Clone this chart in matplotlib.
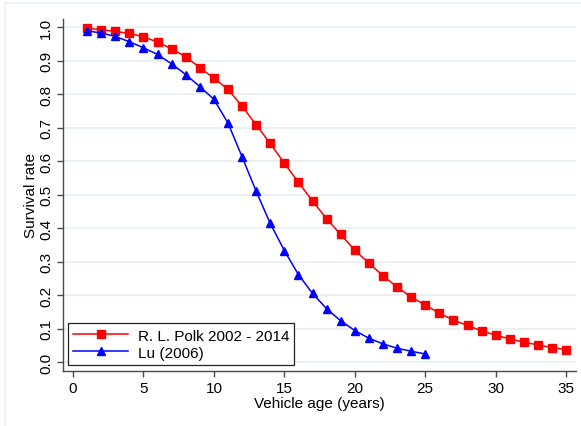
import matplotlib.pyplot as plt
from matplotlib.lines import Line2D

plt.rcParams['font.family'] = ['Liberation Sans', 'DejaVu Sans']

# Survival rate by vehicle age
polk_age = list(range(1, 36))
polk_rate = [0.997, 0.993, 0.988, 0.982, 0.972, 0.956, 0.936, 0.912, 0.880, 0.848,
             0.815, 0.764, 0.709, 0.653, 0.594, 0.537, 0.481, 0.428, 0.381, 0.334,
             0.295, 0.258, 0.224, 0.194, 0.170, 0.146, 0.125, 0.109, 0.093, 0.080,
             0.069, 0.059, 0.051, 0.043, 0.037]

lu_age = list(range(1, 26))
lu_rate = [0.990, 0.983, 0.973, 0.957, 0.939, 0.919, 0.891, 0.859, 0.823, 0.785,
           0.714, 0.613, 0.510, 0.414, 0.333, 0.261, 0.205, 0.159, 0.123, 0.094,
           0.071, 0.054, 0.041, 0.032, 0.024]

yticks = [i / 10 for i in range(11)]
xticks = [0, 5, 10, 15, 20, 25, 30, 35]

W, H = 581, 427
fig = plt.figure(figsize=(W / 100, H / 100), dpi=100)
ax = fig.add_axes([63 / W, (H - 372) / H, (576 - 63) / W, (372 - 20) / H])

grid_col = '#e9f1f3'
axis_col = '#4a4a4a'
fs = 11

for y in yticks:
    ax.axhline(y, color=grid_col, lw=1.4, zorder=0)

ax.plot(polk_age, polk_rate, color='#ff0000', marker='s', markersize=5.3,
        lw=1.1, label='R. L. Polk 2002 - 2014', zorder=3)
ax.plot(lu_age, lu_rate, color='#0000ff', marker='^', markersize=6.3,
        lw=1.1, label='Lu (2006)', zorder=3)

ax.set_xlim(-0.71, 35.7)
ax.set_ylim(-0.027, 1.025)

ax.set_xticks(xticks)
ax.set_yticks(yticks)
ax.set_yticklabels([f'{v:.1f}' for v in yticks], rotation=90, va='center')
ax.tick_params(axis='both', direction='out', length=4, width=1, color=axis_col,
               labelsize=fs, pad=3)

for side in ['top', 'right']:
    ax.spines[side].set_visible(False)
for side in ['left', 'bottom']:
    ax.spines[side].set_color(axis_col)
    ax.spines[side].set_linewidth(1.0)

ax.set_xlabel('Vehicle age (years)', fontsize=fs, labelpad=1)
ax.set_ylabel('Survival rate', fontsize=fs, labelpad=1)

leg = ax.legend(loc='lower left', bbox_to_anchor=(5 / 513, 6 / 352),
                fontsize=fs, frameon=True, fancybox=False, framealpha=1,
                edgecolor='#222222', handlelength=3.6, borderaxespad=0,
                borderpad=0.35, labelspacing=0.2, handletextpad=0.6)
leg.get_frame().set_linewidth(0.9)

# faint outer frame of the graph region
fig.add_artist(Line2D([5 / W, 1], [1 - 4 / H, 1 - 4 / H], color=grid_col, lw=1.2))
fig.add_artist(Line2D([5 / W, 5 / W], [0, 1 - 4 / H], color=grid_col, lw=1.2))

fig.savefig('out.png', dpi=100)
